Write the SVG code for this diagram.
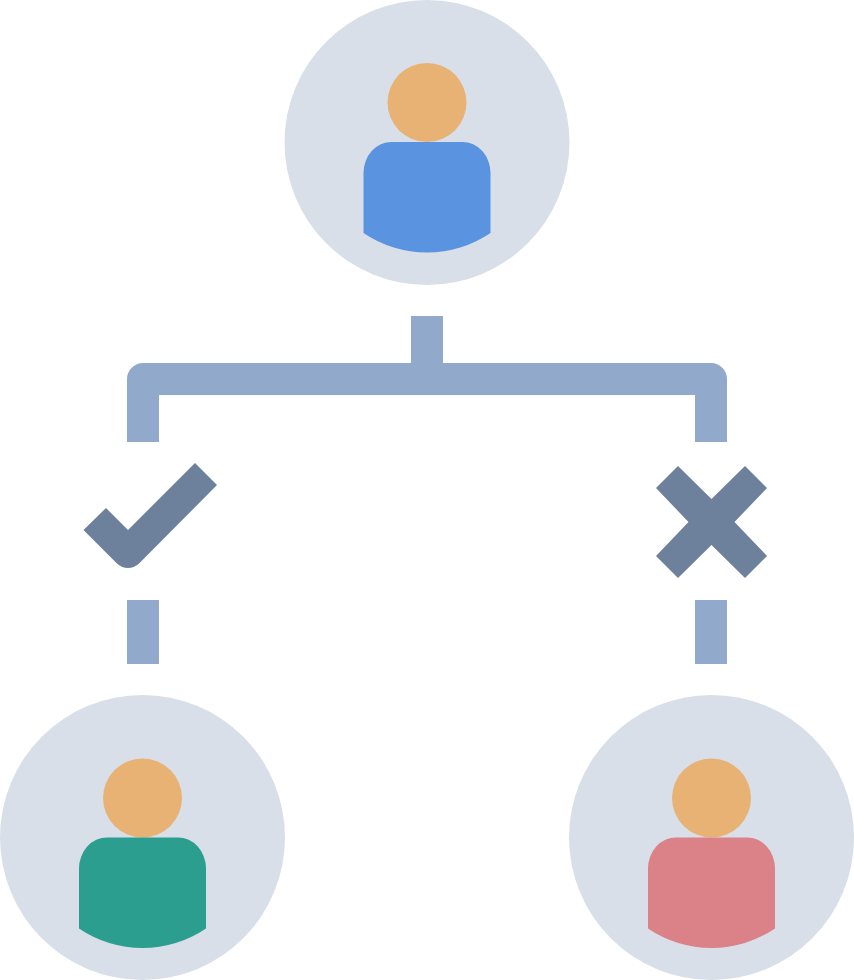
<svg xmlns="http://www.w3.org/2000/svg" width="854" height="980" viewBox="0 0 854 980">
<style>
.bg{fill:#d9dfe8}
.head{fill:#e8b275}
.line{fill:#91aacb}
.mark{fill:#6e819c}
</style>
<defs>
<path id="body" d="M-63.500 91V31A28 31 0 0 1-35.500 0H35.500A28 31 0 0 1 63.500 31V91A113 113 0 0 1-63.500 91Z"/>
</defs>
<rect width="854" height="980" fill="#ffffff"/>
<g id="connectors">
<path class="line" d="M127 442V379A16 16 0 0 1 143 363H411V316H443V363H711A16 16 0 0 1 727 379V442H695V395H159V442Z"/>
<rect class="line" x="127" y="600" width="32" height="64"/>
<rect class="line" x="695" y="600" width="32" height="64"/>
</g>
<g id="node-top">
<circle class="bg" cx="427" cy="142.500" r="142.500"/>
<circle class="head" cx="427" cy="102.500" r="39.500"/>
<use href="#body" x="427" y="142" fill="#5a93df"/>
</g>
<g id="node-check">
<path class="mark" d="M83.500 530L106 508L128 530L195 463L217 485L139.300 563.300A16 16 0 0 1 116.700 563.300Z"/>
</g>
<g id="node-cross">
<path class="mark" d="M678 466L711.500 499L745 466L767 488L734.500 522L767 556L745 578L711.500 545L678 578L656 556L688.500 522L656 488Z"/>
</g>
<g id="node-left">
<circle class="bg" cx="142.500" cy="837.500" r="142.500"/>
<circle class="head" cx="142.500" cy="798" r="39.500"/>
<use href="#body" x="142.500" y="837.500" fill="#2b9e8f"/>
</g>
<g id="node-right">
<circle class="bg" cx="711.500" cy="837.500" r="142.500"/>
<circle class="head" cx="711.500" cy="798" r="39.500"/>
<use href="#body" x="711.500" y="837.500" fill="#da8287"/>
</g>
</svg>
